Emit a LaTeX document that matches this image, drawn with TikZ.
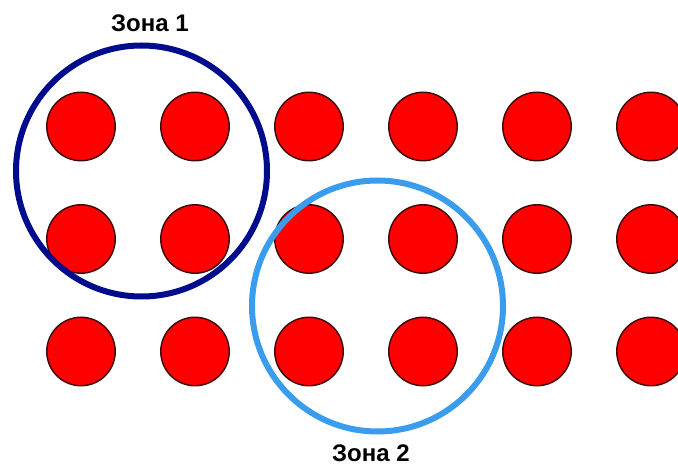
\documentclass[tikz,border=0pt]{standalone}
\usepackage{fontspec}
\setmainfont{Liberation Sans}
\usepackage{xcolor}
\usetikzlibrary{positioning}

\definecolor{dotedge}{HTML}{3A0A0A}
\definecolor{zoneone}{HTML}{000C8C}
\definecolor{zonetwo}{HTML}{3A9CEC}

\begin{document}
\begin{tikzpicture}[
        x=1pt, y=-1pt,
        dot/.style={
            circle,
            draw=dotedge,
            fill=red,
            line width=1.4pt,
            minimum size=68.5pt,
            inner sep=0pt
        },
        zone/.style={
            circle,
            draw,
            line width=6pt,
            minimum size=251pt,
            inner sep=0pt
        },
        zonetext/.style={
            font=\bfseries\fontsize{24}{28}\selectfont,
            inner sep=0pt
        }
    ]

    \useasboundingbox[fill=white] (0,0) rectangle (678,468);
    \clip (0,0) rectangle (678,468);

    \foreach \r in {0,1,2} {
        \foreach \c in {0,...,5} {
            \node[dot] (dot-\r-\c) at ({81+114*\c},{126.5+112.5*\r}) {};
        }
    }

    \node[zone, draw=zoneone] (zone1) at (141.5,171) {};
    \node[zone, draw=zonetwo] (zone2) at (377.5,306) {};

    \node[zonetext] (zone1text) at (150,23) {Зона 1};
    \node[zonetext] (zone2text) at (371,453) {Зона 2};

\end{tikzpicture}
\end{document}
